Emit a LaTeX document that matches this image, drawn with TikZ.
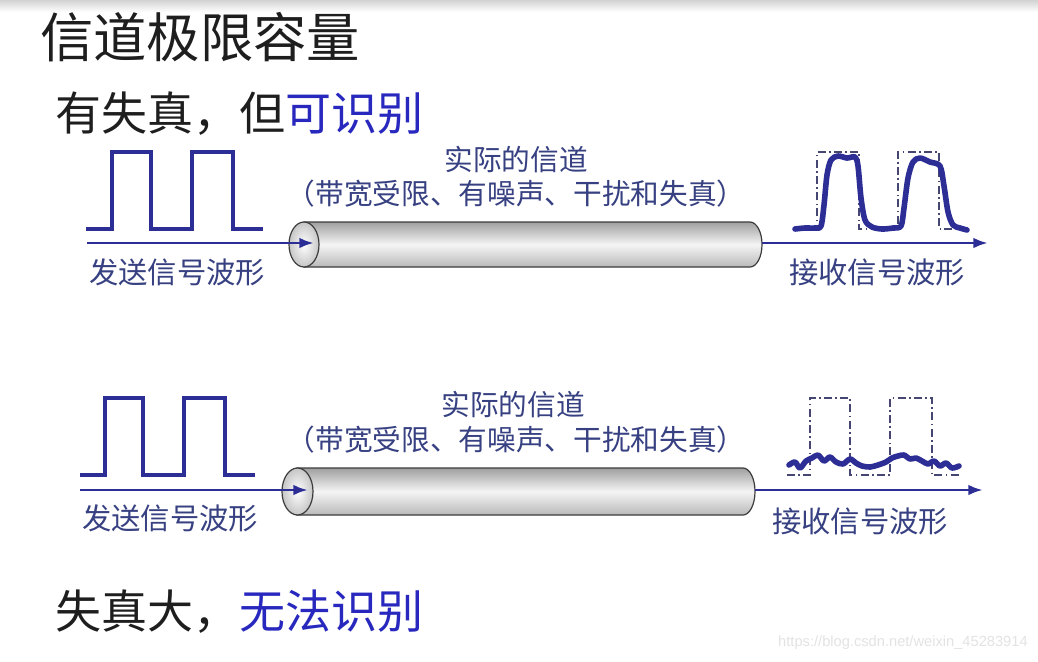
\documentclass[tikz,border=0pt]{standalone}
\usepackage{fontspec}
\setmainfont{Noto Sans CJK SC}
\newfontfamily\wmfont{Liberation Sans}
\usetikzlibrary{arrows.meta}
\definecolor{wave}{RGB}{45,45,150}
\definecolor{lbl}{RGB}{55,65,130}
\definecolor{emph}{RGB}{40,40,190}
\definecolor{ink}{RGB}{30,30,30}
\definecolor{ideal}{RGB}{70,70,115}
\definecolor{tubeline}{RGB}{60,60,60}
\tikzset{
  title/.style={anchor=west,inner sep=0pt,text=ink,font=\fontsize{40}{44}\selectfont},
  subtitle/.style={anchor=west,inner sep=0pt,text=ink,font=\fontsize{34.5}{38}\selectfont},
  chan/.style={inner sep=0pt,text=lbl,font=\fontsize{21.5}{24}\selectfont},
  wavelbl/.style={inner sep=0pt,text=lbl,font=\fontsize{22}{25}\selectfont},
  sendwave/.style={draw=wave,line width=3pt,line join=miter},
  axis/.style={draw=wave,line width=2.2pt,-{Latex[length=11pt,width=8pt]}},
  idealwave/.style={draw=ideal,line width=1.3pt,dash pattern=on 6pt off 2.5pt on 1.2pt off 2.5pt},
  rxwave/.style={draw=wave,line width=4.2pt,line cap=round,line join=round},
  tubebody/.style={draw=tubeline,line width=0.9pt,top color=gray!75,bottom color=gray!55,middle color=gray!8},
  tubeface/.style={draw=tubeline,line width=0.9pt,inner color=white,outer color=gray!45},
}
\begin{document}
\begin{tikzpicture}[x=0.75pt,y=-0.75pt]
\useasboundingbox (0,0) rectangle (1038,661);
\fill[white] (0,0) rectangle (1038,661);
\shade[top color=gray!35,bottom color=white] (0,0) rectangle (1038,12);

% titles
\node[title] (t) at (40,37) {信道极限容量};
\node[subtitle] (s1) at (55,114) {有失真，但\textcolor{emph}{可识别}};
\node[subtitle] (s2) at (55,612) {失真大，\textcolor{emph}{无法识别}};

% ===== top section =====
\draw[sendwave] (86,229) -- (112,229) -- (112,152) -- (151,152) -- (151,229)
  -- (192,229) -- (192,152) -- (233,152) -- (233,229) -- (263,229);
\node[wavelbl] (send1) at (177,272) {发送信号波形};
\node[chan] (ch1a) at (516,160) {实际的信道};
\node[chan] (ch1b) at (516,194) {（带宽受限、有噪声、干扰和失真）};
% tube
\path[tubebody] (304,222) -- (750,222) arc[start angle=-90,end angle=90,x radius=12,y radius=22.5] -- (304,267) -- cycle;
\path[tubeface] (304,244.5) ellipse[x radius=15,y radius=22.5];
\coordinate (in1) at (87,243);
\coordinate (tip1) at (314,243);
\coordinate (out1) at (762,243);
\coordinate (end1) at (988,243);
\draw[axis] (in1) -- (tip1);
\draw[axis] (out1) -- (end1);
% received
\draw[idealwave] (797,229) -- (817,229) -- (817,152) -- (859,152) -- (859,229)
  -- (898,229) -- (898,152) -- (939,152) -- (939,229) -- (967,229);
\draw[rxwave] plot[smooth,tension=0.5] coordinates {(795,229) (805,228) (815,228) (821,226) (824,205) (827,175) (831,160) (838,156) (847,158) (855,157) (858,166) (861,198) (865,220) (872,227) (882,229) (893,228) (901,226) (904,208) (908,178) (913,162) (920,158) (930,162) (940,166) (944,186) (948,212) (953,225) (960,228) (967,230)};
\node[wavelbl] (recv1) at (877,272) {接收信号波形};

% ===== bottom section =====
\draw[sendwave] (80,475) -- (105,475) -- (105,398) -- (143,398) -- (143,475)
  -- (184,475) -- (184,398) -- (225,398) -- (225,475) -- (255,475);
\node[wavelbl] (send2) at (170,518) {发送信号波形};
\node[chan] (ch2a) at (513,405) {实际的信道};
\node[chan] (ch2b) at (516,440) {（带宽受限、有噪声、干扰和失真）};
\path[tubebody] (297,468) -- (743,468) arc[start angle=-90,end angle=90,x radius=12,y radius=23.5] -- (297,515) -- cycle;
\path[tubeface] (297.5,491.5) ellipse[x radius=15.5,y radius=23.5];
\coordinate (in2) at (80,490);
\coordinate (tip2) at (308,490);
\coordinate (out2) at (755,490);
\coordinate (end2) at (983,490);
\draw[axis] (in2) -- (tip2);
\draw[axis] (out2) -- (end2);
\draw[idealwave] (787,475) -- (810,475) -- (810,398) -- (850,398) -- (850,475)
  -- (890,475) -- (890,398) -- (932,398) -- (932,475) -- (960,475);
\draw[rxwave] plot[smooth,tension=0.5] coordinates {(789,465) (795,462) (800,468) (806,461) (812,458) (818,455) (824,461) (830,457) (836,462) (843,464) (850,459) (856,463) (862,466) (870,467) (878,465) (886,462) (892,458) (898,456) (904,455) (910,459) (916,458) (922,461) (928,464) (934,461) (940,466) (946,463) (952,468) (959,466)};
\node[wavelbl] (recv2) at (860,521) {接收信号波形};

% watermark
\node[inner sep=0pt,anchor=east,text=gray!22,font=\wmfont\fontsize{11}{13}\selectfont] (wm) at (1028,643) {https://blog.csdn.net/weixin\_45283914};
\end{tikzpicture}
\end{document}
